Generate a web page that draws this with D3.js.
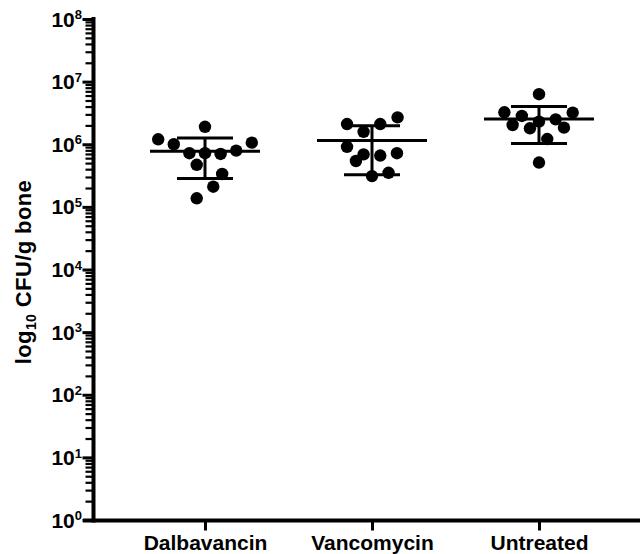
<!DOCTYPE html>
<html>
<head>
<meta charset="utf-8">
<script src="https://cdn.jsdelivr.net/npm/d3@7"></script>
<style>
  html, body { margin: 0; padding: 0; background: #fff; }
  svg { display: block; }
  text { font-family: "Liberation Sans", Arial, Helvetica, sans-serif; font-weight: bold; fill: #000; }
</style>
</head>
<body>
<svg id="chart" width="640" height="554"></svg>
<script>
// ---- data ----
const categories = ["Dalbavancin", "Vancomycin", "Untreated"];
// CFU/g bone, one value per animal
const dalbavancinValues = [1.9e6, 1.2e6, 1.0e6, 7.2e5, 7.2e5, 7.0e5, 7.9e5, 1.06e6, 4.7e5, 3.35e5, 2.1e5, 1.37e5];
const vancomycinValues  = [2.1e6, 1.58e6, 2.1e6, 2.69e6, 9.1e5, 6.9e5, 5.4e5, 6.6e5, 7.2e5, 3.1e5, 3.5e5];
const untreatedValues   = [6.3e6, 3.24e6, 2.83e6, 2.03e6, 1.8e6, 2.3e6, 2.5e6, 3.19e6, 1.84e6, 1.21e6, 5.1e5];
// scatter-column slot of each dot (in dot widths, relative to the group centre)
const dalbavancinSlots = [0, -3, -2, -1, 0, 1, 2, 3, -0.53, 1.1, 0.53, -0.53];
const vancomycinSlots  = [-1.6, -0.54, 0.53, 1.64, -1.6, -0.54, -1.03, 0.53, 1.6, 0, 1.06];
const untreatedSlots   = [0, -2.22, -1.1, -1.69, -0.58, 0, 1.07, 2.16, 1.6, 0.53, 0];
const yMajorTicks = [1, 10, 1e2, 1e3, 1e4, 1e5, 1e6, 1e7, 1e8];
const yTickExponents = ["0", "1", "2", "3", "4", "5", "6", "7", "8"];
const yTitleParts = ["log", "10", " CFU/g bone"];

const groups = [
  { name: categories[0], values: dalbavancinValues, slots: dalbavancinSlots },
  { name: categories[1], values: vancomycinValues,  slots: vancomycinSlots },
  { name: categories[2], values: untreatedValues,   slots: untreatedSlots }
];

// ---- layout ----
const svg = d3.select("#chart");
const axisX = 93.5, baseY = 520.5;

const y = d3.scaleLog().domain([1, 1e8]).range([520, 19]);
const x = d3.scalePoint().domain(categories).range([205, 539]);
const slot = d3.scaleLinear().domain([0, 1]).range([0, 15.6]);

// minor ticks
const minorTicks = [];
for (let e = 0; e < 8; e++) for (let m = 2; m <= 9; m++) minorTicks.push(m * Math.pow(10, e));

const gMinor = svg.append("g").attr("transform", `translate(${axisX},0)`)
  .call(d3.axisLeft(y).tickValues(minorTicks).tickSize(8).tickSizeOuter(0).tickFormat(""));
gMinor.select(".domain").remove();
gMinor.selectAll(".tick line").attr("stroke", "#000").attr("stroke-width", 2.2);

const gMajor = svg.append("g").attr("transform", `translate(${axisX},0)`)
  .call(d3.axisLeft(y).tickValues(yMajorTicks).tickSize(11).tickSizeOuter(0).tickFormat(""));
gMajor.select(".domain").remove();
gMajor.selectAll(".tick line").attr("stroke", "#000").attr("stroke-width", 3);

// y axis line
svg.append("line").attr("x1", axisX).attr("x2", axisX)
  .attr("y1", y(1e8) - 2).attr("y2", baseY + 2)
  .attr("stroke", "#000").attr("stroke-width", 4);

// y tick labels
const yl = svg.append("g").selectAll("text").data(yMajorTicks).join("text")
  .attr("x", 82).attr("y", d => y(d) + 7.6)
  .attr("text-anchor", "end").style("font-size", "21px");
yl.append("tspan").text("10");
yl.append("tspan").attr("dy", -7.4).style("font-size", "13px").text((d, i) => yTickExponents[i]);

// x axis
svg.append("line").attr("x1", 83).attr("x2", 640).attr("y1", baseY).attr("y2", baseY)
  .attr("stroke", "#000").attr("stroke-width", 4);
const gx = svg.append("g").attr("transform", `translate(0,${baseY})`)
  .call(d3.axisBottom(x).tickSize(10).tickSizeOuter(0));
gx.select(".domain").remove();
gx.selectAll(".tick line").attr("stroke", "#000").attr("stroke-width", 3);
gx.selectAll(".tick text").attr("y", 29.5).attr("dy", 0)
  .style("font-size", "21px").style("font-family", null).attr("fill", "#000");
gx.attr("font-family", null).attr("font-size", null);

// y title
const yt = svg.append("text").attr("transform", "translate(30.5,272) rotate(-90)")
  .attr("text-anchor", "middle").style("font-size", "22px").style("letter-spacing", "0.4px");
yt.append("tspan").text(yTitleParts[0]);
yt.append("tspan").attr("dy", 5).style("font-size", "14px").text(yTitleParts[1]);
yt.append("tspan").attr("dy", -5).text(yTitleParts[2]);

// ---- data marks ----
const stats = svg.append("g");
groups.forEach(g => {
  const cx = x(g.name);
  const m = d3.mean(g.values), sd = d3.deviation(g.values);
  stats.append("line").attr("x1", cx - 55).attr("x2", cx + 55)
    .attr("y1", y(m)).attr("y2", y(m)).attr("stroke", "#000").attr("stroke-width", 3);
  stats.append("line").attr("x1", cx).attr("x2", cx)
    .attr("y1", y(m + sd)).attr("y2", y(m - sd)).attr("stroke", "#000").attr("stroke-width", 3);
  [m + sd, m - sd].forEach(v => {
    stats.append("line").attr("x1", cx - 28).attr("x2", cx + 28)
      .attr("y1", y(v)).attr("y2", y(v)).attr("stroke", "#000").attr("stroke-width", 3);
  });
  svg.append("g").selectAll("circle").data(g.values).join("circle")
    .attr("cx", (d, i) => cx + slot(g.slots[i]))
    .attr("cy", d => y(d))
    .attr("r", 6.2)
    .attr("fill", "#000");
});
</script>
</body>
</html>
